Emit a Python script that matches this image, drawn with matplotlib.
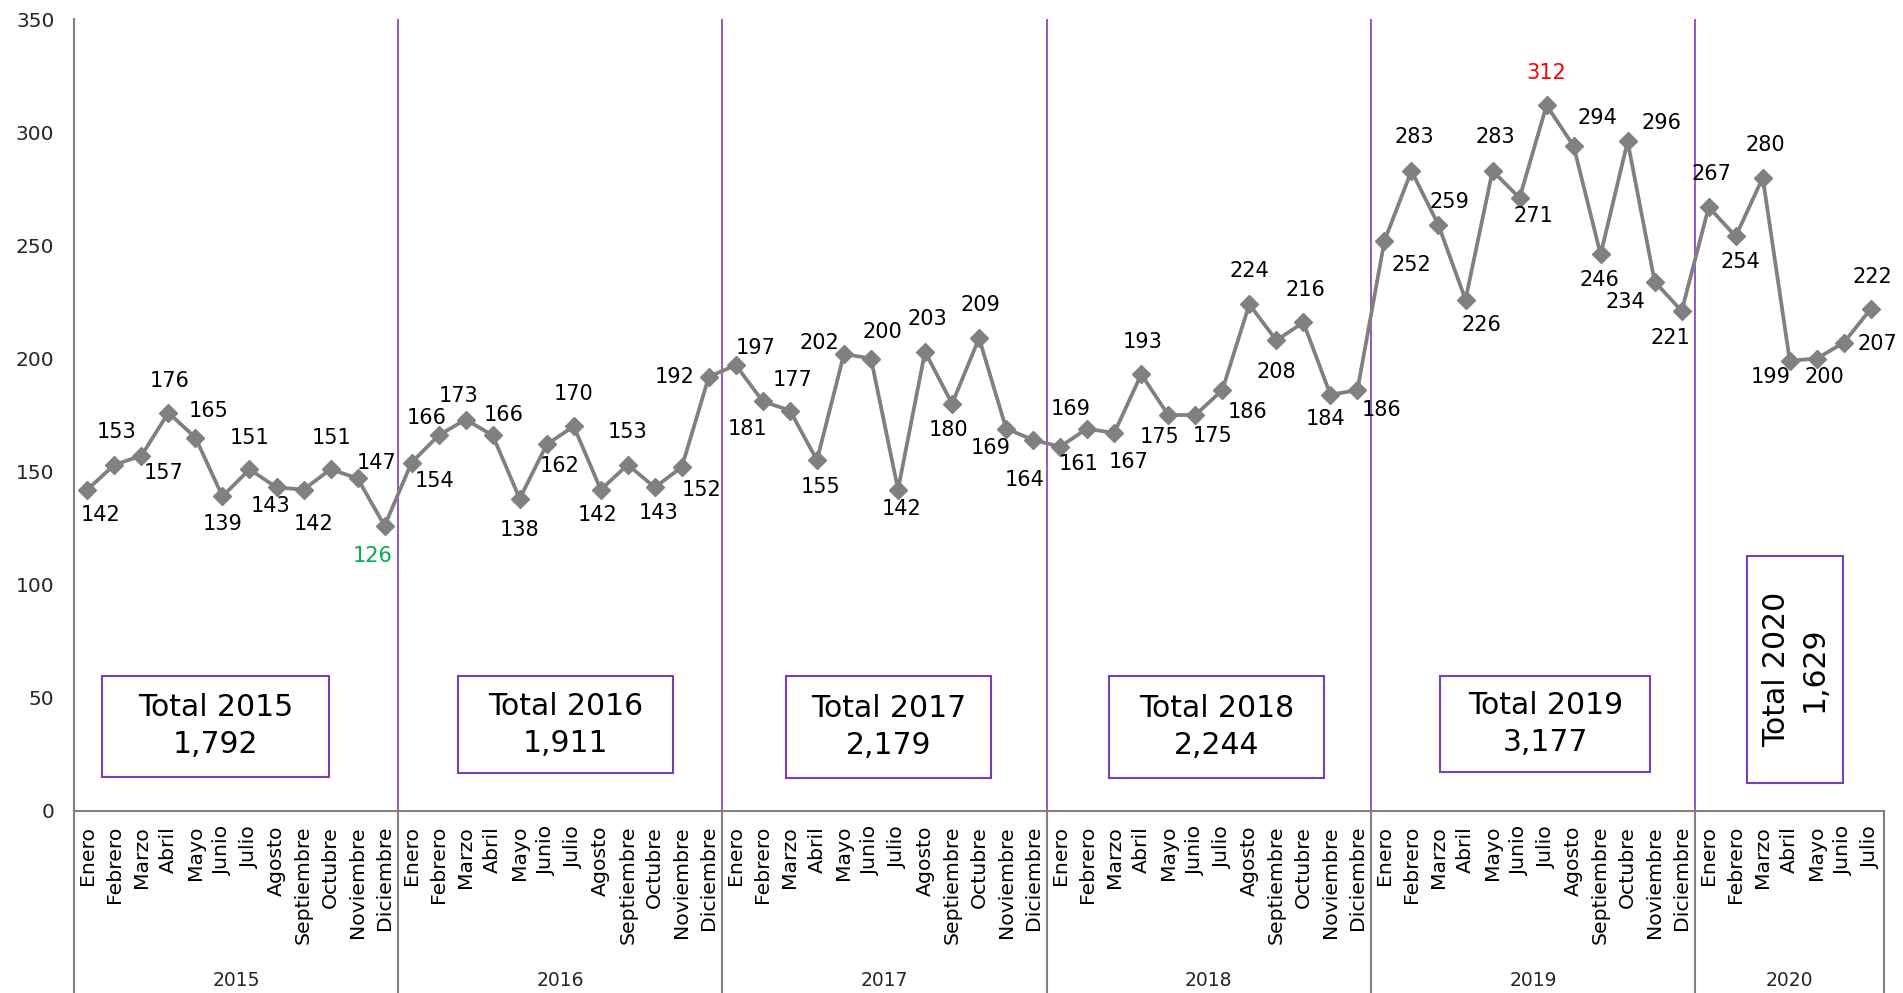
import matplotlib.pyplot as plt
import matplotlib.transforms as mtransforms
from matplotlib.lines import Line2D
from matplotlib.patches import Rectangle

# Monthly values
months = ['Enero', 'Febrero', 'Marzo', 'Abril', 'Mayo', 'Junio', 'Julio',
          'Agosto', 'Septiembre', 'Octubre', 'Noviembre', 'Diciembre']
years = ['2015', '2016', '2017', '2018', '2019', '2020']
v2015 = [142, 153, 157, 176, 165, 139, 151, 143, 142, 151, 147, 126]
v2016 = [154, 166, 173, 166, 138, 162, 170, 142, 153, 143, 152, 192]
v2017 = [197, 181, 177, 155, 202, 200, 142, 203, 180, 209, 169, 164]
v2018 = [161, 169, 167, 193, 175, 175, 186, 224, 208, 216, 184, 186]
v2019 = [252, 283, 259, 226, 283, 271, 312, 294, 246, 296, 234, 221]
v2020 = [267, 254, 280, 199, 200, 207, 222]
totals = ['1,792', '1,911', '2,179', '2,244', '3,177', '1,629']

series = [v2015, v2016, v2017, v2018, v2019, v2020]
values = [v for s in series for v in s]
xlabels = [months[i] for s in series for i in range(len(s))]

# label offsets (reference pixels, dy positive = down)
offsets = [
    (11, 21), (2, -27), (18, 14), (1, -26), (11, -22), (0, 23), (0, -26), (-5, 15), (8, 28), (1, -26), (16, -13), (-10, 25),
    (19, 15), (-10, -14), (-6, -19), (9, -17), (0, 26), (11, 18), (0, -27), (-3, 21), (0, -27), (3, 21), (16, 19), (-28, 0),
    (16, -14), (-13, 23), (2, -25), (3, 22), (-20, -9), (9, -22), (3, 16), (2, -27), (-3, 22), (1, -27), (-13, 16), (-7, 33),
    (15, 14), (-14, -16), (12, 24), (1, -27), (-7, 18), (14, 17), (21, 18), (0, -27), (0, 26), (2, -27), (-4, 20), (20, 16),
    (22, 20), (2, -28), (9, -19), (13, 21), (2, -28), (11, 15), (0, -27), (20, -23), (-1, 21), (28, -15), (-24, 17), (-9, 22),
    (2, -27), (4, 21), (2, -27), (-16, 13), (6, 15), (28, 1), (1, -26),
]
# total boxes: x0, x1, y0, y1 in data units
boxes = [(0.54, 8.94, 15.0, 59.6), (13.70, 21.69, 16.6, 59.6), (25.86, 33.45, 14.5, 59.6),
         (37.81, 45.76, 14.5, 59.6), (50.07, 57.84, 17.2, 59.6), (61.43, 64.98, 12.3, 112.7)]

S = 1903 / 1568
GRAY = '#808080'
PURPLE = '#7B3FB5'

fig = plt.figure(figsize=(19.03, 9.93), dpi=100)
ax = fig.add_axes([0.0388, 0.1836, 0.9514, 0.7969])

x = list(range(len(values)))
ax.plot(x, values, color=GRAY, lw=2.7, marker='D', ms=9, zorder=3)

vmin, vmax = min(values), max(values)
for i, v in enumerate(values):
    dx, dy = offsets[i]
    color = '#00B050' if v == vmin else ('#FF0000' if v == vmax else 'black')
    ax.annotate(str(v), (i, v), xytext=(dx * S, -dy * S), textcoords='offset pixels',
                ha='center', va='center', fontsize=15, color=color, zorder=4)

ax.set_xlim(-0.5, len(values) - 0.5)
ax.set_ylim(0, 350)
ax.set_yticks(range(0, 351, 50))
ax.set_xticks(x)
ax.set_xticklabels(xlabels, rotation=90, fontsize=14.7)
ax.tick_params(axis='x', length=0, pad=11)
ax.tick_params(axis='y', length=0, pad=14, labelsize=14.5, labelcolor='#262626')

for side in ['top', 'right']:
    ax.spines[side].set_visible(False)
ax.spines['left'].set_color(GRAY)
ax.spines['bottom'].set_color(GRAY)
ax.spines['left'].set_linewidth(1.5)
ax.spines['bottom'].set_linewidth(1.5)

trans = mtransforms.blended_transform_factory(ax.transData, ax.transAxes)
low = -0.2304
ax.add_line(Line2D([0, 0], [low, 0], transform=ax.transAxes, color=GRAY, lw=1.5, clip_on=False))

start = 0
for k, s in enumerate(series):
    end = start + len(s)
    ax.add_line(Line2D([end - 0.5, end - 0.5], [low, 0], transform=trans, color=GRAY, lw=1.5, clip_on=False))
    if k < len(series) - 1:
        ax.axvline(end - 0.5, color=PURPLE, lw=1.2, zorder=1)
    ax.text((start + end - 1) / 2, -0.2147, years[k], transform=trans, ha='center', va='center',
            fontsize=13.5, color='#262626')
    x0, x1, y0, y1 = boxes[k]
    ax.add_patch(Rectangle((x0, y0), x1 - x0, y1 - y0, fill=False, edgecolor=PURPLE, lw=1.5, zorder=2))
    rot = 90 if k == len(series) - 1 else 0
    ax.text((x0 + x1) / 2, (y0 + y1) / 2, 'Total ' + years[k] + '\n' + totals[k], ha='center', va='center',
            fontsize=21.5, rotation=rot, linespacing=1.35, zorder=3)
    start = end

fig.savefig('out.png', dpi=100)
